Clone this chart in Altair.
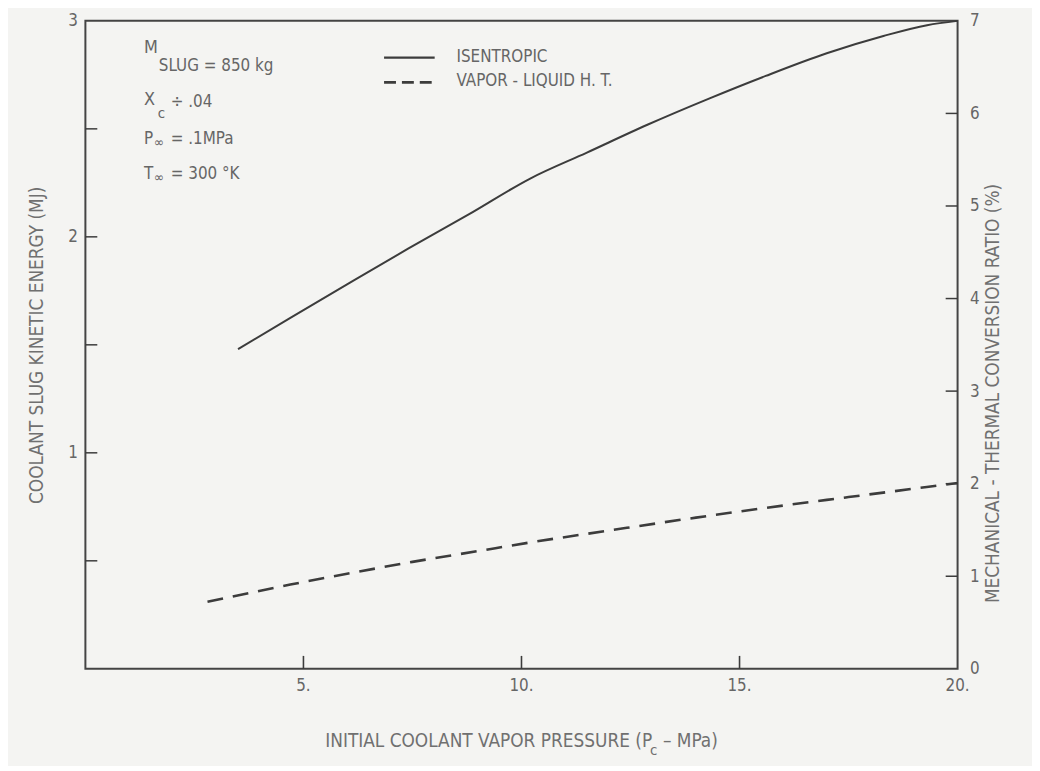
import altair as alt
import pandas as pd

# ---- data ----
iso_p = [3.5, 4.7, 6.0, 7.4, 8.8, 10.2, 11.5, 12.9, 14.3, 15.6, 17.0, 18.3, 19.3, 20.0]
iso_e = [1.48, 1.625, 1.78, 1.945, 2.105, 2.27, 2.39, 2.52, 2.64, 2.745, 2.85, 2.93, 2.98, 3.0]
vap_p = [2.8, 4.7, 6.0, 7.5, 9.0, 10.2, 12.0, 14.0, 15.6, 17.5, 20.0]
vap_e = [0.31, 0.39, 0.44, 0.495, 0.545, 0.585, 0.64, 0.70, 0.745, 0.795, 0.86]

x_labels = [5, 10, 15, 20]
x_label_text = ["5.", "10.", "15.", "20."]
x_inner_ticks = [5, 10, 15]
left_labels = [1, 2, 3]
left_ticks = [0.5, 1, 1.5, 2, 2.5]
right_labels = [0, 1, 2, 3, 4, 5, 6, 7]
right_ticks = [1, 2, 3, 4, 5, 6]

W, H = 879, 653
FONT = "DejaVu Sans Condensed, Liberation Sans Narrow, sans-serif"
TITLE_FONT = "DejaVu Sans Condensed, DejaVu Sans, sans-serif"
LINE = "#3c3c3c"
TXT = "#666666"
TTL = "#707070"

xs = alt.Scale(domain=[0, 20], nice=False)
ys = alt.Scale(domain=[0, 3], nice=False)
rs = alt.Scale(domain=[0, 7], nice=False)

iso_df = pd.DataFrame({"p": iso_p, "e": iso_e})
vap_df = pd.DataFrame({"p": vap_p, "e": vap_e})

solid = alt.Chart(iso_df).mark_line(color=LINE, strokeWidth=2, interpolate="monotone").encode(
    x=alt.X("p:Q", scale=xs, axis=None),
    y=alt.Y("e:Q", scale=ys, axis=alt.Axis(
        values=left_labels, tickSize=0, domain=False, grid=False, labelPadding=8,
        labelFontSize=17, labelFont=FONT, labelColor=TXT,
        title="COOLANT SLUG KINETIC ENERGY (MJ)", titleFont=TITLE_FONT, titleFontSize=19,
        titleColor=TTL, titleFontWeight="normal", titlePadding=22)),
)

dashed = alt.Chart(vap_df).mark_line(color=LINE, strokeWidth=2.6, strokeDash=[16, 10],
                                     interpolate="monotone").encode(
    x=alt.X("p:Q", scale=xs, axis=None),
    y=alt.Y("e:Q", scale=ys, axis=None),
)

# bottom axis drawn by hand: inward ticks + labels through the x scale
bt = alt.Chart(pd.DataFrame({"p": x_inner_ticks})).mark_rule(color=LINE, strokeWidth=1.6).encode(
    x=alt.X("p:Q", scale=xs, axis=None), y=alt.value(H - 13), y2=alt.value(H))

bl = alt.Chart(pd.DataFrame({"p": x_labels, "lab": x_label_text})).mark_text(
    align="center", baseline="middle", fontSize=17, font=FONT, color=TXT).encode(
    x=alt.X("p:Q", scale=xs, axis=None), y=alt.value(H + 17), text="lab:N")

lt = alt.Chart(pd.DataFrame({"e": left_ticks})).mark_rule(color=LINE, strokeWidth=1.5).encode(
    y=alt.Y("e:Q", scale=ys, axis=None), x=alt.value(0), x2=alt.value(12))

rt = alt.Chart(pd.DataFrame({"r": right_ticks})).mark_rule(color=LINE, strokeWidth=1.5).encode(
    y=alt.Y("r:Q", scale=rs, axis=alt.Axis(
        orient="right", values=right_labels, tickSize=0, domain=False, grid=False,
        labelPadding=12, labelFontSize=17, labelFont=FONT, labelColor=TXT,
        title="MECHANICAL - THERMAL CONVERSION RATIO (%)", titleFont=TITLE_FONT, titleFontSize=19,
        titleColor=TTL, titleFontWeight="normal", titlePadding=24, titleAngle=270,
        titleY=375)),
    x=alt.value(W - 12), x2=alt.value(W))


def txt(s, x, y, size=16, font=FONT, color=TXT, align="left"):
    return alt.Chart(pd.DataFrame({"t": [s]})).mark_text(
        align=align, baseline="middle", fontSize=size, font=font, color=color).encode(
        x=alt.value(x), y=alt.value(y), text="t:N")


annots = [
    txt("M", 59, 27, 18),
    txt("SLUG = 850 kg", 74, 46, 17),
    txt("X", 59, 80, 18),
    txt("c", 73, 93, 15),
    txt("\u00f7 .04", 86, 82, 17),
    txt("P", 59, 119, 17),
    txt("\u221e", 69, 123, 14),
    txt("= .1MPa", 86, 119, 17),
    txt("T", 59, 154, 17),
    txt("\u221e", 69, 158, 14),
    txt("= 300  \u00b0K", 86, 154, 17),
    txt("ISENTROPIC", 374, 36, 17),
    txt("VAPOR - LIQUID H. T.", 374, 61, 17),
    txt("INITIAL COOLANT VAPOR PRESSURE (P\u00a0\u00a0\u2013 MPa)", W / 2, 726, 19,
        TITLE_FONT, TTL, "center"),
    txt("c", 569, 735, 15, TITLE_FONT, TTL),
]

leg_solid = alt.Chart(pd.DataFrame({"k": [0]})).mark_rule(color=LINE, strokeWidth=2.2).encode(
    x=alt.value(301), x2=alt.value(352), y=alt.value(37))
leg_dash = alt.Chart(pd.DataFrame({"k": [0]})).mark_rule(color=LINE, strokeWidth=2.6,
                                                        strokeDash=[12, 6]).encode(
    x=alt.value(301), x2=alt.value(352), y=alt.value(62))

chart = alt.layer(solid, dashed, bt, bl, lt, rt, leg_solid, leg_dash, *annots).resolve_scale(
    y="independent"
).properties(
    width=W, height=H,
    autosize=alt.AutoSizeParams(type="none"),
    padding={"left": 78, "top": 10, "right": 75, "bottom": 95},
    background="#f4f4f2",
).configure_view(stroke="#444444", strokeWidth=2)

chart.save("out.html", embed_options={"renderer": "svg", "actions": False})
